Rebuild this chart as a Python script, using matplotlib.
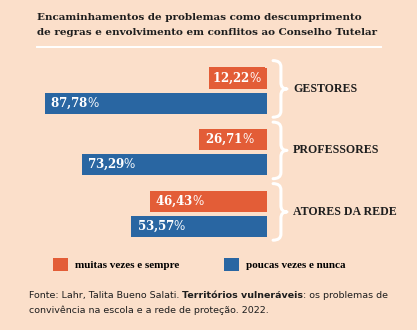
import numpy as np
import matplotlib
matplotlib.use('Agg')
from matplotlib import pyplot as plt
from matplotlib.path import Path
from matplotlib.patches import PathPatch


groups = ['GESTORES', 'PROFESSORES', 'ATORES DA REDE']
muitas_vezes = [12.22, 26.71, 46.43]
poucas_vezes = [87.78, 73.29, 53.57]
legend_labels = ['muitas vezes e sempre', 'poucas vezes e nunca']

title_lines = ['Encaminhamentos de problemas como descumprimento',
               'de regras e envolvimento em conflitos ao Conselho Tutelar']
source_parts = [('Fonte: Lahr, Talita Bueno Salati. ', 'normal'),
                ('Territórios vulneráveis', 'bold'),
                (': os problemas de', 'normal')]
source_line2 = 'convivência na escola e a rede de proteção. 2022.'

BG = '#fbdfca'
ORANGE = '#e35d37'
BLUE = '#2966a2'
DARK = '#1e1e1e'
W, H = 417, 330


def fx(px):
    return px / W

def fy(py):
    return 1 - py / H


def brace(ax, c, h=0.46, r=0.1, x_end=102.4, x_stem=105.5, x_tip=107.9):
    verts = [(x_end, c - h), (x_stem, c - h), (x_stem, c - h + r),
             (x_stem, c - r), (x_stem, c), (x_tip, c),
             (x_stem, c), (x_stem, c + r),
             (x_stem, c + h - r), (x_stem, c + h), (x_end, c + h)]
    codes = [Path.MOVETO, Path.CURVE3, Path.CURVE3,
             Path.LINETO, Path.CURVE3, Path.CURVE3,
             Path.CURVE3, Path.CURVE3,
             Path.LINETO, Path.CURVE3, Path.CURVE3]
    ax.add_patch(PathPatch(Path(verts, codes), fill=False, ec='white', lw=2.2,
                           capstyle='round', joinstyle='round', clip_on=False))


def value_label(ax, value, y, color):
    # bold number, regular percent sign, decimal comma
    num = f'{value:.2f}'.replace('.', '{,}')
    s = r'$\mathbf{' + num + '}$%'
    kw = dict(color='white', fontsize=8.6, family='DejaVu Serif',
              math_fontfamily='dejavuserif', va='center',
              textcoords='offset points', annotation_clip=False)
    if value > 20:
        ax.annotate(s, xy=(100 - value, y), xytext=(4, 0), ha='left', **kw)
    else:
        # bar too short for its label: right-align it and give it a box
        ax.annotate(s, xy=(100, y), xytext=(-3.5, 0), ha='right',
                    bbox=dict(boxstyle='square,pad=0.28', fc=color, ec='none'),
                    **kw)


def main():
    fig = plt.figure(figsize=(W / 100, H / 100), dpi=100, facecolor=BG)

    # title
    for line, base in zip(title_lines, [20, 35]):
        fig.text(fx(37), fy(base), line, family='DejaVu Serif', weight='bold',
                 fontsize=7.5, color=DARK, va='baseline')
    fig.add_artist(plt.Line2D([fx(37), fx(381)], [fy(47), fy(47)],
                              color='white', lw=1.4))

    # bars: 1 group = 61.5 px, 1 % = 2.53 px, right edge at x=267 px
    ax = fig.add_axes([fx(14), fy(250.65), 253 / W, 196.8 / H])
    ax.set_facecolor('none')
    y = np.arange(len(groups))
    off, hgt = 0.203, 0.335
    left_m = [100 - v for v in muitas_vezes]
    left_p = [100 - v for v in poucas_vezes]
    bm = ax.barh(y - off, muitas_vezes, left=left_m, height=hgt, color=ORANGE,
                 label=legend_labels[0])
    bp = ax.barh(y + off, poucas_vezes, left=left_p, height=hgt, color=BLUE,
                 label=legend_labels[1])
    ax.set_xlim(0, 100)
    ax.set_ylim(2.6, -0.6)
    ax.axis('off')

    for i, g in enumerate(groups):
        value_label(ax, muitas_vezes[i], y[i] - off, ORANGE)
        value_label(ax, poucas_vezes[i], y[i] + off, BLUE)
        brace(ax, y[i] - 0.03)
        ax.text(110.3, y[i] - 0.03, g, family='Liberation Serif', weight='bold',
                fontsize=8.6, color=DARK, va='center', ha='left', clip_on=False)

    ax.legend(handles=[bm, bp], loc='center left',
              bbox_to_anchor=(fx(53), fy(264.5)), bbox_transform=fig.transFigure,
              ncol=2, frameon=False, borderpad=0, borderaxespad=0,
              handlelength=1.35, handleheight=1.35, handletextpad=0.63,
              columnspacing=4.0,
              prop=dict(family='Liberation Serif', weight='bold', size=8.0))

    # source
    kw = dict(family='DejaVu Sans', fontsize=6.8, color=DARK)
    prev = None
    for txt, wt in source_parts:
        if prev is None:
            prev = fig.text(fx(29), fy(298), txt, va='baseline', weight=wt, **kw)
        else:
            prev = fig.add_artist(plt.Annotation(txt, xy=(1, 0), xycoords=prev,
                                                 va='bottom', weight=wt, **kw))
    fig.text(fx(29), fy(313), source_line2, va='baseline', **kw)

    fig.savefig('out.png', dpi=100, facecolor=BG)


if __name__ == '__main__':
    main()
